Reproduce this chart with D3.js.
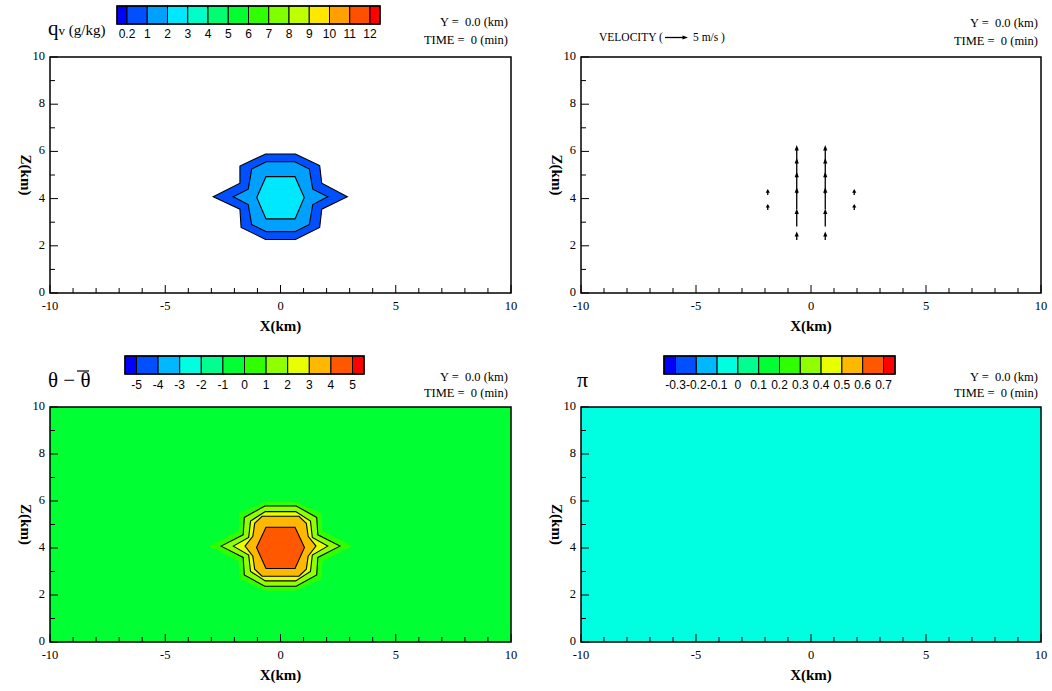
<!DOCTYPE html>
<html><head><meta charset="utf-8">
<script src="https://cdn.jsdelivr.net/npm/d3@7"></script>
<style>body{margin:0;background:#fff} svg{display:block}</style>
</head><body>
<svg id="c" width="1052" height="691"></svg>
<script>
// ---------- data ----------
const xMajor = [-10,-5,0,5,10];
const xMinor = d3.range(-10,11,1);
const zMajor = [0,2,4,6,8,10];
const zMinor = d3.range(0,11,1);

const qvLabels = ["0.2","1","2","3","4","5","6","7","8","9","10","11","12"];
const qvColors = ["#0000ff","#0050ff","#00a0ff","#00e8ff","#00ffc8","#00ff70","#00ff30","#30ff00","#80ff00","#c0ff00","#ffe800","#ffa000","#ff5000","#ff0000"];
const thLabels = ["-5","-4","-3","-2","-1","0","1","2","3","4","5"];
const thColors = ["#0000ff","#0050ff","#00b8ff","#00ffe0","#00ff90","#00ff33","#30ff00","#90ff00","#e8ff00","#ffb800","#ff5800","#ff0000"];
const piLabels = ["-0.3","-0.2","-0.1","0","0.1","0.2","0.3","0.4","0.5","0.6","0.7"];
const piColors = ["#0000ff","#0050ff","#00b8ff","#00ffe0","#00ff90","#00ff33","#30ff00","#90ff00","#e8ff00","#ffb800","#ff5800","#ff0000"];

// qv contour regions (x km, z km)
const qvBand1 = [[-2.92,4.08],[-1.76,4.65],[-1.76,5.38],[-0.65,5.89],[0.65,5.89],[1.7,5.4],[1.79,4.65],[2.9,4.08],[1.79,3.55],[1.7,2.78],[0.65,2.27],[-0.65,2.27],[-1.71,2.78],[-1.76,3.55]];
const qvBand2 = [[-2.05,4.08],[-1.4,4.4],[-1.25,5.25],[-0.62,5.56],[0.62,5.56],[1.25,5.25],[1.4,4.4],[2.05,4.08],[1.4,3.75],[1.25,2.9],[0.62,2.6],[-0.62,2.6],[-1.25,2.9],[-1.4,3.75]];
const qvBand3 = [[-1.03,4.05],[-0.63,4.93],[0.63,4.93],[1.03,4.05],[0.63,3.14],[-0.63,3.14]];

// theta' contour regions
const thBand0 = [[-3.1,4.08],[-1.82,4.72],[-1.78,5.48],[-0.66,5.97],[0.66,5.97],[1.78,5.48],[1.82,4.72],[3.1,4.08],[1.82,3.44],[1.78,2.68],[0.66,2.18],[-0.66,2.18],[-1.78,2.68],[-1.82,3.44]];
const thBand1 = [[-2.58,4.08],[-1.62,4.56],[-1.57,5.3],[-0.68,5.79],[0.68,5.79],[1.57,5.3],[1.62,4.56],[2.58,4.08],[1.62,3.6],[1.57,2.85],[0.68,2.37],[-0.68,2.37],[-1.57,2.85],[-1.62,3.6]];
const thBand2 = [[-2.05,4.08],[-1.38,4.45],[-1.3,5.15],[-0.66,5.55],[0.66,5.55],[1.3,5.15],[1.38,4.45],[2.05,4.08],[1.38,3.7],[1.3,3.0],[0.66,2.6],[-0.66,2.6],[-1.3,3.0],[-1.38,3.7]];
const thBand3 = [[-1.54,4.08],[-1.2,4.5],[-1.12,5.05],[-0.8,5.35],[0.8,5.35],[1.12,5.05],[1.2,4.5],[1.54,4.08],[1.2,3.65],[1.12,3.1],[0.8,2.8],[-0.8,2.8],[-1.12,3.1],[-1.2,3.65]];
const thBand4 = [[-1.04,4.02],[-0.63,4.88],[0.63,4.88],[1.04,4.02],[0.63,3.13],[-0.63,3.13]];

// velocity vectors (x km, z km, u m/s, w m/s)
const vecX = [-1.88,-0.62,-0.62,-0.62,-0.62,-0.62,-0.62,-1.88, 1.88,0.62,0.62,0.62,0.62,0.62,0.62,1.88];
const vecZ = [3.52,2.25,2.82,3.55,4.2,4.9,5.55,4.15, 3.52,2.25,2.82,3.55,4.2,4.9,5.55,4.15];
const vecW = [1.3,1.8,3.9,4.8,4.8,4.2,3.7,1.3, 1.3,1.8,3.9,4.8,4.8,4.2,3.7,1.3];
const vecU = [0,0,0,0,0,0,0,0, 0,0,0,0,0,0,0,0];
const refSpeed = 5;

// ---------- drawing ----------
const svg = d3.select("#c");
const serif = "'Liberation Serif','Times New Roman',serif";
const sans = "'Liberation Sans',Arial,sans-serif";

function panel(x0,x1,y0,y1){
  const g = svg.append("g");
  const xs = d3.scaleLinear().domain([-10,10]).range([x0,x1]);
  const zs = d3.scaleLinear().domain([0,10]).range([y1,y0]);
  return {g,xs,zs,x0,x1,y0,y1};
}
function frame(p){
  const {g,xs,zs} = p;
  const fx = g.append("g");
  xMinor.forEach(v=>{
    const len = xMajor.includes(v)?8:5;
    fx.append("line").attr("x1",xs(v)).attr("x2",xs(v)).attr("y1",zs(0)).attr("y2",zs(0)-len).attr("stroke","#000").attr("stroke-width",1);
  });
  zMinor.forEach(v=>{
    const len = zMajor.includes(v)?8:5;
    fx.append("line").attr("y1",zs(v)).attr("y2",zs(v)).attr("x1",xs(-10)).attr("x2",xs(-10)+len).attr("stroke","#000").attr("stroke-width",1);
  });
  fx.append("rect").attr("x",xs(-10)).attr("y",zs(10)).attr("width",xs(10)-xs(-10)).attr("height",zs(0)-zs(10))
    .attr("fill","none").attr("stroke","#000").attr("stroke-width",1.5);
  xMajor.forEach(v=>{
    g.append("text").attr("x",xs(v)).attr("y",zs(0)+17).attr("text-anchor","middle")
      .attr("font-family",serif).attr("font-size",12.5).text(v);
  });
  zMajor.forEach(v=>{
    g.append("text").attr("x",xs(-10)-5).attr("y",zs(v)+3).attr("text-anchor","end")
      .attr("font-family",serif).attr("font-size",12.5).text(v);
  });
  g.append("text").attr("x",(xs(-10)+xs(10))/2).attr("y",zs(0)+38).attr("text-anchor","middle")
    .attr("font-family",serif).attr("font-weight","bold").attr("font-size",15).text("X(km)");
  const cy = zs(5);
  g.append("text").attr("transform",`translate(${xs(-10)-29},${cy}) rotate(90)`).attr("text-anchor","middle")
    .attr("font-family",serif).attr("font-weight","bold").attr("font-size",15).text("Z(km)");
}
function info(p, yBase, gap){
  const {g,x1} = p;
  g.append("text").attr("x",x1-3).attr("y",yBase).attr("text-anchor","end").attr("font-family",serif).attr("font-size",12.5)
    .attr("xml:space","preserve").text("Y =  0.0 (km)");
  g.append("text").attr("x",x1-3).attr("y",yBase+gap).attr("text-anchor","end").attr("font-family",serif).attr("font-size",12.5)
    .attr("xml:space","preserve").text("TIME =  0 (min)");
}
function colorbar(x0,x1,y0,y1,endW,labels,colors,labelY){
  const n = labels.length-1;
  const s = d3.scaleLinear().domain([0,n]).range([x0+endW,x1-endW]);
  const g = svg.append("g");
  colors.forEach((c,i)=>{
    const a = i===0 ? x0 : s(i-1);
    const b = i===colors.length-1 ? x1 : s(i);
    g.append("rect").attr("x",a).attr("y",y0).attr("width",b-a).attr("height",y1-y0).attr("fill",c)
      .attr("stroke","#000").attr("stroke-width",1);
  });
  g.append("rect").attr("x",x0).attr("y",y0).attr("width",x1-x0).attr("height",y1-y0).attr("fill","none").attr("stroke","#000").attr("stroke-width",1.5);
  labels.forEach((l,i)=>{
    g.append("text").attr("x",s(i)).attr("y",labelY).attr("text-anchor","middle").attr("font-family",sans).attr("font-size",12).text(l);
  });
}
function region(p, pts, color, stroke){
  const line = d3.line().x(d=>p.xs(d[0])).y(d=>p.zs(d[1])).curve(d3.curveLinearClosed);
  p.g.append("path").attr("d",line(pts)).attr("fill",color)
    .attr("stroke",stroke?"#000":"none").attr("stroke-width",1.1).attr("stroke-linejoin","miter");
}

// ---- panel 1: qv ----
const p1 = panel(50,511,57,293);
region(p1,qvBand1,qvColors[1],true);
region(p1,qvBand2,qvColors[2],true);
region(p1,qvBand3,qvColors[3],true);
frame(p1);
info(p1,26,18);
colorbar(117,380,6,24,10,qvLabels,qvColors,38);
const t1 = svg.append("text").attr("x",48).attr("y",35).attr("font-family",serif);
t1.append("tspan").attr("font-size",21).text("q");
t1.append("tspan").attr("font-size",13).text("v");
t1.append("tspan").attr("font-size",15).text(" (g/kg)");

// ---- panel 2: velocity ----
const p2 = panel(581,1041,57,293);
const pxPerMs = (p2.xs(1)-p2.xs(0))/refSpeed;
function arrow(g,xa,ya,dx,dy){
  const L = Math.hypot(dx,dy); if(L<0.01) return;
  const ux=dx/L, uy=dy/L;
  const hl = Math.min(5.5,L*0.6), hw=2.1;
  const xb=xa+dx, yb=ya+dy;
  g.append("line").attr("x1",xa).attr("y1",ya).attr("x2",xb-ux*hl*0.5).attr("y2",yb-uy*hl*0.5).attr("stroke","#000").attr("stroke-width",1.3);
  g.append("path").attr("d",`M${xb},${yb}L${xb-ux*hl-uy*hw},${yb-uy*hl+ux*hw}L${xb-ux*hl+uy*hw},${yb-uy*hl-ux*hw}Z`).attr("fill","#000");
}
vecX.forEach((x,i)=>{
  arrow(p2.g,p2.xs(x),p2.zs(vecZ[i]),vecU[i]*pxPerMs,-vecW[i]*pxPerMs);
});
frame(p2);
info(p2,27,18);
svg.append("text").attr("x",599).attr("y",41).attr("font-family",serif).attr("font-size",11.5).attr("xml:space","preserve").text("VELOCITY (");
arrow(svg,665,37.5,refSpeed*pxPerMs,0);
svg.append("text").attr("x",693).attr("y",41).attr("font-family",serif).attr("font-size",11.5).attr("xml:space","preserve").text("5 m/s )");

// ---- panel 3: theta' ----
const p3 = panel(50,511,407,642);
p3.g.append("rect").attr("x",p3.xs(-10)).attr("y",p3.zs(10)).attr("width",p3.xs(10)-p3.xs(-10)).attr("height",p3.zs(0)-p3.zs(10)).attr("fill",thColors[5]);
region(p3,thBand0,thColors[6],false);
region(p3,thBand1,thColors[7],true);
region(p3,thBand2,thColors[8],true);
region(p3,thBand3,thColors[9],true);
region(p3,thBand4,thColors[10],true);
frame(p3);
info(p3,381,16);
colorbar(125,364,356,374,11.5,thLabels,thColors,389);
svg.append("text").attr("x",48).attr("y",387).attr("font-family",serif).attr("font-size",21).attr("xml:space","preserve").text("θ − θ");
svg.append("line").attr("x1",77).attr("x2",89).attr("y1",371).attr("y2",371).attr("stroke","#000").attr("stroke-width",1.2);

// ---- panel 4: pi ----
const p4 = panel(581,1041,407,642);
p4.g.append("rect").attr("x",p4.xs(-10)).attr("y",p4.zs(10)).attr("width",p4.xs(10)-p4.xs(-10)).attr("height",p4.zs(0)-p4.zs(10)).attr("fill",piColors[3]);
frame(p4);
info(p4,381,16);
colorbar(664,895,356,374,11.5,piLabels,piColors,389);
svg.append("text").attr("x",577).attr("y",387).attr("font-family",serif).attr("font-size",22).text("π");
</script>
</body></html>
